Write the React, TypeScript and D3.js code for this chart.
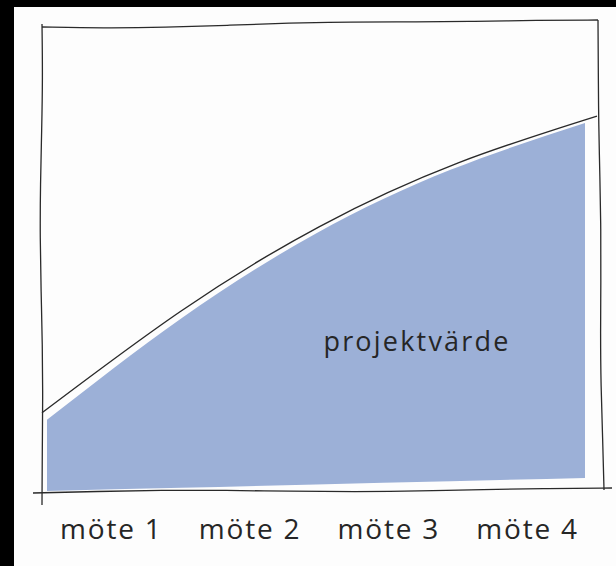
import React, { useEffect, useRef } from 'react';
import * as d3 from 'd3';

// meetings along the x axis
const meetings = ['möte 1', 'möte 2', 'möte 3', 'möte 4'];
// project value at the start and after each meeting (0-100)
const steps = [0, 1, 2, 3, 4];
const projectValue = [16.5, 38.2, 56.3, 69.9, 79.9];
const areaLabel = 'projektvärde';

const W = 616;
const H = 566;

// hand drawn looking line between two points
const sketch = (x1: number, y1: number, x2: number, y2: number, amp: number, seed: number) => {
  const n = 9;
  const pts: [number, number][] = [];
  const len = Math.hypot(x2 - x1, y2 - y1);
  const nx = -(y2 - y1) / len;
  const ny = (x2 - x1) / len;
  for (let i = 0; i <= n; i++) {
    const t = i / n;
    const w = i === 0 || i === n ? 0 : amp * Math.sin(t * 7.3 + seed) * Math.sin(t * 3.1 + seed * 2);
    pts.push([x1 + (x2 - x1) * t + nx * w, y1 + (y2 - y1) * t + ny * w]);
  }
  return d3.line().curve(d3.curveBasis)(pts) as string;
};

const App = () => {
  const ref = useRef<SVGSVGElement>(null);

  useEffect(() => {
    const svg = d3.select(ref.current);
    svg.selectAll('*').remove();

    const left = 42;
    const right = 597;
    const top = 22;
    const bottom = 490;

    const x = d3.scaleLinear().domain([0, 4]).range([left, right]);
    const y = d3.scaleLinear().domain([0, 100]).range([bottom, top]);
    const band = d3.scaleBand().domain(meetings).range([left, right]);

    // photo background with black edge
    svg.append('rect').attr('width', W).attr('height', H).attr('fill', '#000');
    svg.append('rect').attr('x', 14).attr('y', 7).attr('width', W - 14).attr('height', H - 7).attr('fill', '#fdfdfd');

    // blue area, drawn slightly inside the pen line
    const xFill = d3.scaleLinear().domain([0, 4]).range([left + 5, right - 12]);
    const area = d3
      .area<number>()
      .x((_, i) => xFill(steps[i]))
      .y0((_, i) => bottom + 1 - (13 * steps[i]) / 4)
      .y1((d) => y(d) + 7)
      .curve(d3.curveNatural);
    svg.append('path').attr('d', area(projectValue)).attr('fill', '#9cb0d7');

    const pen = '#2a2a2a';
    const frame = svg.append('g').attr('fill', 'none').attr('stroke', pen).attr('stroke-width', 1.3);
    frame.append('path').attr('d', sketch(left, top + 5, right + 1, top - 2, 2.2, 0.4));
    frame.append('path').attr('d', sketch(left, top + 2, left, bottom + 15, 2, 1.7));
    frame.append('path').attr('d', sketch(right + 1, top - 2, right + 7, bottom, 2, 2.6));
    frame.append('path').attr('d', sketch(left - 9, bottom + 3, right + 15, bottom - 2, 2, 3.3));

    // value curve
    const line = d3
      .line<number>()
      .x((_, i) => x(steps[i]))
      .y((d) => y(d))
      .curve(d3.curveNatural);
    svg
      .append('path')
      .attr('d', line(projectValue))
      .attr('fill', 'none')
      .attr('stroke', pen)
      .attr('stroke-width', 1.4);

    svg
      .append('text')
      .attr('x', 417)
      .attr('y', 351)
      .attr('text-anchor', 'middle')
      .attr('font-family', '"Open Sans", sans-serif')
      .attr('font-size', 27)
      .attr('letter-spacing', 2.2)
      .attr('fill', '#262626')
      .text(areaLabel);

    svg
      .append('g')
      .selectAll('text')
      .data(meetings)
      .join('text')
      .attr('x', (d) => (band(d) as number) + band.bandwidth() / 2)
      .attr('y', 539)
      .attr('text-anchor', 'middle')
      .attr('font-family', '"Open Sans", sans-serif')
      .attr('font-size', 28)
      .attr('letter-spacing', 1.8)
      .attr('fill', '#262626')
      .text((d) => d);
  }, []);

  return <svg ref={ref} width={W} height={H} style={{ position: 'absolute', left: 0, top: 0 }} />;
};

export default App;
